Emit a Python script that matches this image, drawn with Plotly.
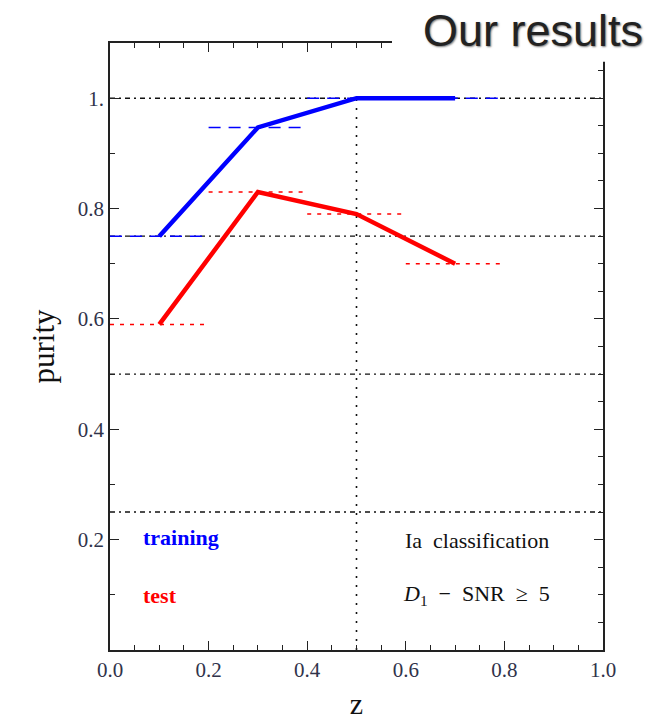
import plotly.graph_objects as go

# ---- data ----
z_bins = [0.1, 0.3, 0.5, 0.7]
bin_edges_lo = [0.0, 0.2, 0.4, 0.6]
bin_edges_hi = [0.2, 0.4, 0.6, 0.8]
training_purity = [0.75, 0.947, 1.0, 1.0]
test_purity = [0.59, 0.83, 0.79, 0.70]
ref_levels = [0.25, 0.5, 0.75, 1.0]
vline_z = 0.5
x_ticks = [0.0, 0.2, 0.4, 0.6, 0.8, 1.0]
x_ticklabels = ["0.0", "0.2", "0.4", "0.6", "0.8", "1.0"]
y_ticks = [0.2, 0.4, 0.6, 0.8, 1.0]
y_ticklabels = ["0.2", "0.4", "0.6", "0.8", "1."]

BLUE = "#0000ff"
RED = "#ff0000"
SERIF = "Liberation Serif, DejaVu Serif, serif"
TICKCOL = "#30334a"

fig = go.Figure()

# black reference lines
for lv in ref_levels:
    fig.add_trace(go.Scatter(x=[0.0, 1.0], y=[lv, lv], mode="lines",
                             line=dict(color="#111", width=1.4, dash="5px,4px,2px,4px"),
                             hoverinfo="skip", showlegend=False))
fig.add_trace(go.Scatter(x=[vline_z, vline_z], y=[0.0, 1.0], mode="lines",
                         line=dict(color="#111", width=1.6, dash="2px,7px"),
                         hoverinfo="skip", showlegend=False))

# bin step segments
for lo, hi, v in zip(bin_edges_lo, bin_edges_hi, training_purity):
    fig.add_trace(go.Scatter(x=[lo, hi], y=[v, v], mode="lines",
                             line=dict(color=BLUE, width=1.5, dash="12px,8px"),
                             hoverinfo="skip", showlegend=False))
for lo, hi, v in zip(bin_edges_lo, bin_edges_hi, test_purity):
    fig.add_trace(go.Scatter(x=[lo, hi], y=[v, v], mode="lines",
                             line=dict(color=RED, width=1.5, dash="4px,6px"),
                             hoverinfo="skip", showlegend=False))

# main lines
fig.add_trace(go.Scatter(x=z_bins, y=training_purity, mode="lines",
                         line=dict(color=BLUE, width=4.5), name="training", showlegend=False))
fig.add_trace(go.Scatter(x=z_bins, y=test_purity, mode="lines",
                         line=dict(color=RED, width=4.5), name="test", showlegend=False))

# invisible trace for right-hand axis ticks
fig.add_trace(go.Scatter(x=[0.0], y=[0.0], yaxis="y2", mode="markers",
                         marker=dict(opacity=0), hoverinfo="skip", showlegend=False))

fig.update_layout(
    width=658, height=723,
    margin=dict(l=102, r=63, t=35, b=81),
    paper_bgcolor="white", plot_bgcolor="white",
    xaxis=dict(range=[0.0, 1.0], tickvals=x_ticks, ticktext=x_ticklabels,
               showgrid=False, zeroline=False, showline=True, linecolor="#222", linewidth=1.5,
               mirror="ticks", ticks="inside", ticklen=9, tickcolor="#222", tickwidth=1,
               minor=dict(dtick=0.05, ticks="inside", ticklen=5, tickcolor="#222", showgrid=False),
               tickfont=dict(family=SERIF, size=21, color=TICKCOL),
               title=dict(text="z", font=dict(family=SERIF, size=30, color="#111"), standoff=12)),
    yaxis=dict(range=[0.0, 1.1], tickvals=y_ticks, ticktext=y_ticklabels,
               showgrid=False, zeroline=False, showline=True, linecolor="#222", linewidth=1.5,
               mirror=True, ticks="inside", ticklen=9, tickcolor="#222", tickwidth=1,
               minor=dict(dtick=0.1, ticks="inside", ticklen=5, tickcolor="#222", showgrid=False),
               tickfont=dict(family=SERIF, size=21, color=TICKCOL),
               title=dict(text="purity", font=dict(family=SERIF, size=31, color="#111"), standoff=14)),
    yaxis2=dict(range=[0.0, 1.1], overlaying="y", side="right", tickvals=y_ticks,
                showticklabels=False, showgrid=False, zeroline=False, showline=False,
                ticks="inside", ticklen=9, tickcolor="#222",
                minor=dict(dtick=0.05, ticks="inside", ticklen=5, tickcolor="#222", showgrid=False)),
    shapes=[
        dict(type="rect", xref="paper", yref="paper", x0=0.572, x1=1.2, y0=0.969, y1=1.2,
             fillcolor="white", line=dict(width=0), layer="above"),
    ],
    annotations=[
        dict(text="Our results", xref="paper", yref="paper", x=1.083, y=1.02, xanchor="right",
             yanchor="middle", showarrow=False, borderpad=0,
             font=dict(family="Liberation Sans, Arial, sans-serif", size=45, color="#222",
                       shadow="1px 1px 2px #777")),
        dict(text="<b>training</b>", x=0.063, y=0.203, xref="x", yref="y", xanchor="left",
             showarrow=False, font=dict(family=SERIF, size=22, color=BLUE)),
        dict(text="<b>test</b>", x=0.063, y=0.099, xref="x", yref="y", xanchor="left",
             showarrow=False, font=dict(family=SERIF, size=22, color=RED)),
        dict(text="Ia  classification", x=0.744, y=0.198, xref="x", yref="y",
             showarrow=False, font=dict(family=SERIF, size=22, color="#111")),
        dict(text="<i>D</i><sub>1</sub>  −  SNR  ≥  5", x=0.744, y=0.099, xref="x", yref="y",
             showarrow=False, font=dict(family=SERIF, size=22, color="#111")),
    ],
)

fig.write_html("out.html")
